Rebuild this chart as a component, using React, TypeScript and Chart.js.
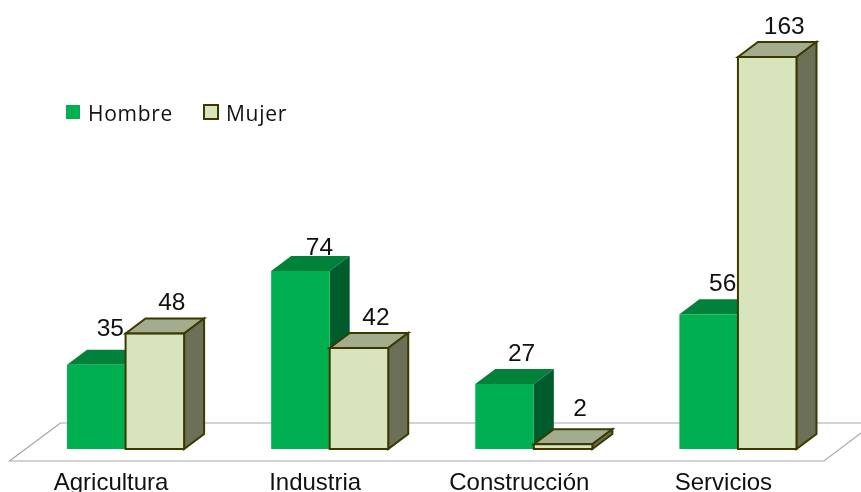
import React, { useEffect, useRef } from "react";
import { Chart, registerables } from "chart.js";

Chart.register(...registerables);

const categories = ["Agricultura", "Industria", "Construcción", "Servicios"];
const hombre = [35, 74, 27, 56];
const mujer = [48, 42, 2, 163];
const seriesNames = ["Hombre", "Mujer"];

const DEPTH_X = 20;
const DEPTH_Y = 15;
const INK = "#3B3900";

const faces: Record<string, { top: string; side: string; stroke: string | null }> = {
  Hombre: { top: "#00823B", side: "#005C2C", stroke: null },
  Mujer: { top: "#A3AD8E", side: "#6C7059", stroke: INK },
};

// Hand placement of the few labels that sit off the regular spot, keyed "dataset:category".
const labelNudge: Record<string, [number, number]> = {
  "0:0": [-3, -6],
  "0:1": [2, 7],
  "0:3": [-3, 0],
  "1:0": [0, -1],
  "1:2": [0, -5],
};

const poly = (ctx: CanvasRenderingContext2D, pts: number[][], fill: string, stroke: string | null) => {
  ctx.beginPath();
  pts.forEach(([x, y], i) => (i ? ctx.lineTo(x, y) : ctx.moveTo(x, y)));
  ctx.closePath();
  ctx.fillStyle = fill;
  ctx.fill();
  if (stroke) {
    ctx.strokeStyle = stroke;
    ctx.lineWidth = 2;
    ctx.lineJoin = "miter";
    ctx.stroke();
  }
};

const floorPlugin = {
  id: "floor",
  beforeDraw(chart: any) {
    const { ctx, chartArea: a } = chart;
    ctx.save();
    ctx.lineWidth = 1.2;
    ctx.strokeStyle = "#A8A8A8";
    ctx.beginPath();
    ctx.moveTo(a.left + 37, a.bottom - 26);
    ctx.lineTo(a.left - 14, a.bottom + 12);
    ctx.lineTo(a.right - 16, a.bottom + 12);
    ctx.lineTo(a.right + 34, a.bottom - 26);
    ctx.lineTo(a.left + 37, a.bottom - 26);
    ctx.stroke();
    ctx.restore();
  },
};

const drawFaces = (chart: any, index: number) => {
  const { ctx } = chart;
  const meta = chart.getDatasetMeta(index);
  const f = faces[chart.data.datasets[index].label];
  ctx.save();
  meta.data.forEach((bar: any) => {
    const l = bar.x - bar.width / 2;
    const r = bar.x + bar.width / 2;
    const t = bar.y;
    const b = bar.base;
    poly(ctx, [[l, t], [l + DEPTH_X, t - DEPTH_Y], [r + DEPTH_X, t - DEPTH_Y], [r, t]], f.top, f.stroke);
    poly(ctx, [[r, t], [r + DEPTH_X, t - DEPTH_Y], [r + DEPTH_X, b - DEPTH_Y], [r, b]], f.side, f.stroke);
  });
  ctx.restore();
};

// Chart.js paints the first dataset last; the second series has to sit in front here.
const boxPlugin = {
  id: "box3d",
  beforeDatasetDraw(chart: any, args: any) {
    if (args.index === 1) return false;
    drawFaces(chart, 0);
    return true;
  },
  afterDatasetDraw(chart: any, args: any) {
    if (args.index !== 0) return;
    const { ctx } = chart;
    drawFaces(chart, 1);
    chart.getDatasetMeta(1).data.forEach((bar: any) => {
      bar.draw(ctx);
      ctx.save();
      ctx.strokeStyle = INK;
      ctx.lineWidth = 2;
      ctx.strokeRect(bar.x - bar.width / 2, bar.y, bar.width, bar.base - bar.y);
      ctx.restore();
    });
  },
};

const labelPlugin = {
  id: "valueLabels",
  afterDatasetsDraw(chart: any) {
    const { ctx } = chart;
    ctx.save();
    ctx.font = '24.5px "Liberation Sans"';
    ctx.fillStyle = "#111111";
    ctx.textAlign = "center";
    ctx.textBaseline = "alphabetic";
    chart.data.datasets.forEach((ds: any, i: number) => {
      chart.getDatasetMeta(i).data.forEach((bar: any, j: number) => {
        const [dx, dy] = labelNudge[`${i}:${j}`] || [0, 0];
        ctx.fillText(String(ds.data[j]), bar.x + 17 + dx, bar.y - 23 + dy);
      });
    });
    ctx.restore();
  },
};

const legendPlugin = {
  id: "floatingLegend",
  afterDraw(chart: any) {
    const { ctx } = chart;
    ctx.save();
    ctx.font = '21px "Open Sans"';
    (ctx as any).letterSpacing = "0.7px";
    ctx.textBaseline = "alphabetic";
    chart.data.datasets.forEach((ds: any, i: number) => {
      const x = i === 0 ? 66 : 204;
      ctx.fillStyle = ds.backgroundColor;
      ctx.fillRect(x, 105, 14, 14);
      const stroke = faces[ds.label].stroke;
      if (stroke) {
        ctx.strokeStyle = stroke;
        ctx.lineWidth = 2;
        ctx.strokeRect(x, 105, 14, 14);
      }
      ctx.fillStyle = "#111111";
      ctx.fillText(ds.label, x + 22, 121);
    });
    ctx.restore();
  },
};

export default function App() {
  const ref = useRef<HTMLCanvasElement | null>(null);
  useEffect(() => {
    document.body.style.margin = "0";
    const chart = new Chart(ref.current as HTMLCanvasElement, {
      type: "bar",
      data: {
        labels: categories,
        datasets: [
          { label: seriesNames[0], data: hombre, backgroundColor: "#00B050", borderWidth: 0 },
          { label: seriesNames[1], data: mujer, backgroundColor: "#D8E4BC", borderWidth: 0 },
        ],
      },
      options: {
        responsive: false,
        animation: false,
        layout: { padding: { left: 23.5, right: 21, top: 57, bottom: 0 } },
        datasets: { bar: { categoryPercentage: 0.5735, barPercentage: 1 } },
        plugins: { legend: { display: false }, tooltip: { enabled: false } },
        scales: {
          x: {
            grid: { display: false },
            border: { display: false },
            afterFit: (s: any) => {
              s.height = 43;
            },
            ticks: {
              font: { family: "Liberation Sans", size: 24 },
              color: "#111111",
              labelOffset: -14.5,
              padding: 12,
              maxRotation: 0,
              autoSkip: false,
            },
          },
          y: { display: false, min: 0, max: 163 },
        },
      },
      plugins: [floorPlugin, boxPlugin, labelPlugin, legendPlugin],
    } as any);
    return () => chart.destroy();
  }, []);
  return <canvas ref={ref} width={861} height={492} style={{ display: "block" }} />;
}
